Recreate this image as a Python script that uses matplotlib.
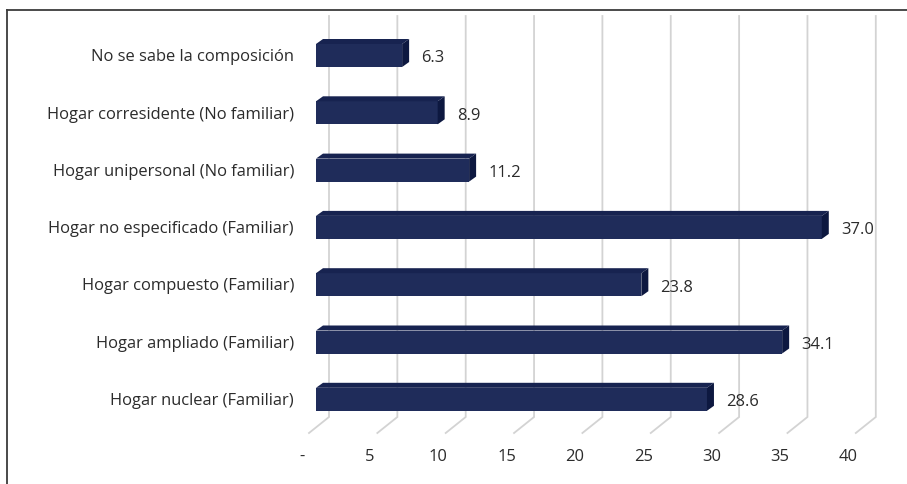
import matplotlib.pyplot as plt
import matplotlib.lines as mlines

# data (top to bottom)
categories = [
    "No se sabe la composición",
    "Hogar corresidente (No familiar)",
    "Hogar unipersonal (No familiar)",
    "Hogar no especificado (Familiar)",
    "Hogar compuesto (Familiar)",
    "Hogar ampliado (Familiar)",
    "Hogar nuclear (Familiar)",
]
values = [6.3, 8.9, 11.2, 37.0, 23.8, 34.1, 28.6]
ticks = [0, 5, 10, 15, 20, 25, 30, 35, 40]
tick_labels = ["-", "5", "10", "15", "20", "25", "30", "35", "40"]

plt.rcParams['font.family'] = ['Open Sans', 'DejaVu Sans']

W, H = 907, 484
fig = plt.figure(figsize=(W / 100, H / 100), dpi=100)

# pixel geometry of the drawing area
px0, px1 = 290, 890
py0, py1 = 10, 475
x_of0, x_scale = 316, 13.67      # pixel of value 0, pixels per unit
y_of0, y_step = 55.5, 57.3       # pixel of first bar centre, pixels per category

ax = fig.add_axes([px0 / W, 1 - py1 / H, (px1 - px0) / W, (py1 - py0) / H])
ax.set_xlim((px0 - x_of0) / x_scale, (px1 - x_of0) / x_scale)
ax.set_ylim((py1 - y_of0) / y_step, (py0 - y_of0) / y_step)
ax.axis("off")

front = "#1f2c5a"
top_c = "#172350"
side_c = "#0d1840"
grid_c = "#d3d3d3"
text_c = "#2b2b2b"
fs = 11.9

bar_h = 23 / y_step
dx = 7 / x_scale
dy = 5 / y_step

# back wall gridlines + floor lines
gx_off = 13 / x_scale
g_top = (16 - y_of0) / y_step
g_bot = (417 - y_of0) / y_step
g_front = (433 - y_of0) / y_step
f_dx = 20 / x_scale
for t in ticks:
    gx = t + gx_off
    ax.plot([gx, gx, gx - f_dx], [g_top, g_bot, g_front], color=grid_c, lw=1.3,
            zorder=1, solid_joinstyle="miter")

# 3D-like bars
for i, v in enumerate(values):
    top = i - bar_h / 2
    bot = i + bar_h / 2
    ax.barh(i, v, height=bar_h, left=0, color=front, zorder=3)
    ax.fill([0, v, v + dx, dx], [top, top, top - dy, top - dy], color=top_c,
            zorder=3, lw=0)
    ax.fill([v, v + dx, v + dx, v], [top, top - dy, bot - dy, bot], color=side_c,
            zorder=3, lw=0)
    ax.text(v + 19 / x_scale, i + 0.05, f"{v:.1f}", ha="left", va="center",
            fontsize=fs, color=text_c, zorder=4)
    ax.text((294 - x_of0) / x_scale, i + 0.03, categories[i], ha="right",
            va="center", fontsize=fs, color=text_c)

# x tick labels
lab_y = (457 - y_of0) / y_step
for t, lab in zip(ticks, tick_labels):
    ax.text(t - 1.05, lab_y, lab, ha="center", va="center", fontsize=fs,
            color=text_c)

# outer frame (top and left only)
fig.add_artist(mlines.Line2D([7 / W, 1], [1 - 10 / H, 1 - 10 / H],
                             color="#3c3c3c", lw=1.3))
fig.add_artist(mlines.Line2D([7 / W, 7 / W], [1 - 10 / H, 0],
                             color="#3c3c3c", lw=1.3))

fig.savefig("out.png", dpi=100)
